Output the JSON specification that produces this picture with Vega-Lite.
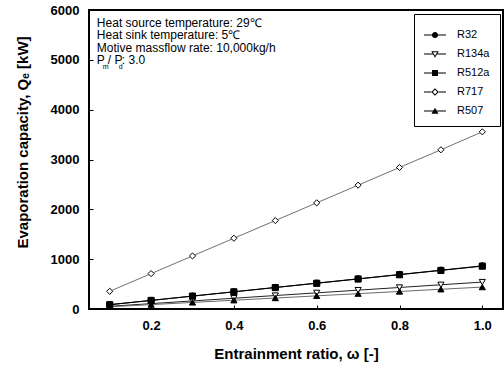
{
  "$schema": "https://vega.github.io/schema/vega-lite/v6.json",
  "width": 414,
  "height": 299,
  "autosize": {"type": "none"},
  "padding": {"left": 89, "top": 10, "right": 1, "bottom": 67},
  "background": "white",
  "config": {
    "view": {"stroke": "black", "strokeWidth": 2},
    "font": "Liberation Sans",
    "axis": {"labelColor": "black", "titleColor": "black", "tickColor": "black", "grid": false, "domain": false}
  },
  "resolve": {"scale": {"shape": "independent", "fill": "independent"}, "legend": {"shape": "independent", "fill": "independent"}},
  "data": {
    "values": [
      {"ratio": 0.1, "ref": "R32", "q": 87}, {"ratio": 0.2, "ref": "R32", "q": 173}, {"ratio": 0.3, "ref": "R32", "q": 260}, {"ratio": 0.4, "ref": "R32", "q": 346}, {"ratio": 0.5, "ref": "R32", "q": 433}, {"ratio": 0.6, "ref": "R32", "q": 520}, {"ratio": 0.7, "ref": "R32", "q": 606}, {"ratio": 0.8, "ref": "R32", "q": 693}, {"ratio": 0.9, "ref": "R32", "q": 779}, {"ratio": 1.0, "ref": "R32", "q": 866},
      {"ratio": 0.1, "ref": "R134a", "q": 54}, {"ratio": 0.2, "ref": "R134a", "q": 108}, {"ratio": 0.3, "ref": "R134a", "q": 162}, {"ratio": 0.4, "ref": "R134a", "q": 216}, {"ratio": 0.5, "ref": "R134a", "q": 270}, {"ratio": 0.6, "ref": "R134a", "q": 324}, {"ratio": 0.7, "ref": "R134a", "q": 378}, {"ratio": 0.8, "ref": "R134a", "q": 432}, {"ratio": 0.9, "ref": "R134a", "q": 486}, {"ratio": 1.0, "ref": "R134a", "q": 540},
      {"ratio": 0.1, "ref": "R512a", "q": 86}, {"ratio": 0.2, "ref": "R512a", "q": 172}, {"ratio": 0.3, "ref": "R512a", "q": 258}, {"ratio": 0.4, "ref": "R512a", "q": 344}, {"ratio": 0.5, "ref": "R512a", "q": 430}, {"ratio": 0.6, "ref": "R512a", "q": 516}, {"ratio": 0.7, "ref": "R512a", "q": 602}, {"ratio": 0.8, "ref": "R512a", "q": 688}, {"ratio": 0.9, "ref": "R512a", "q": 774}, {"ratio": 1.0, "ref": "R512a", "q": 860},
      {"ratio": 0.1, "ref": "R717", "q": 355}, {"ratio": 0.2, "ref": "R717", "q": 710}, {"ratio": 0.3, "ref": "R717", "q": 1065}, {"ratio": 0.4, "ref": "R717", "q": 1420}, {"ratio": 0.5, "ref": "R717", "q": 1775}, {"ratio": 0.6, "ref": "R717", "q": 2130}, {"ratio": 0.7, "ref": "R717", "q": 2485}, {"ratio": 0.8, "ref": "R717", "q": 2840}, {"ratio": 0.9, "ref": "R717", "q": 3195}, {"ratio": 1.0, "ref": "R717", "q": 3555},
      {"ratio": 0.1, "ref": "R507", "q": 44}, {"ratio": 0.2, "ref": "R507", "q": 88}, {"ratio": 0.3, "ref": "R507", "q": 132}, {"ratio": 0.4, "ref": "R507", "q": 176}, {"ratio": 0.5, "ref": "R507", "q": 220}, {"ratio": 0.6, "ref": "R507", "q": 264}, {"ratio": 0.7, "ref": "R507", "q": 308}, {"ratio": 0.8, "ref": "R507", "q": 352}, {"ratio": 0.9, "ref": "R507", "q": 396}, {"ratio": 1.0, "ref": "R507", "q": 440}
    ]
  },
  "layer": [
    {
      "mark": {"type": "line", "strokeWidth": 1},
      "encoding": {
        "x": {"field": "ratio", "type": "quantitative", "scale": {"domain": [0.05, 1.05], "nice": false, "zero": false},
          "axis": {"values": [0.2, 0.4, 0.6, 0.8, 1.0], "format": ".1f", "title": "Entrainment ratio, ω  [-]", "tickSize": -4, "labelPadding": 14, "labelFontSize": 13, "labelFontWeight": "bold", "titleFontSize": 15, "titleFontWeight": "bold", "titlePadding": 14}},
        "y": {"field": "q", "type": "quantitative", "scale": {"domain": [0, 6000], "nice": false},
          "axis": {"values": [0, 1000, 2000, 3000, 4000, 5000, 6000], "format": "d", "title": "Evaporation capacity, Qₑ [kW]", "tickSize": -4, "labelPadding": 14, "labelFontSize": 13, "labelFontWeight": "bold", "titleFontSize": 15, "titleFontWeight": "bold", "titleX": -67, "titleY": 132, "titleAngle": -90, "titleBaseline": "middle", "titleAlign": "center"}},
        "stroke": {"field": "ref", "type": "nominal", "scale": {"range": ["#222222", "#000000", "#6a6a6a", "#000000", "#707070"]}, "legend": null}
      }
    },
    {
      "mark": {"type": "point", "filled": true, "size": 38, "stroke": "black", "strokeWidth": 1, "opacity": 1},
      "encoding": {
        "x": {"field": "ratio", "type": "quantitative"},
        "y": {"field": "q", "type": "quantitative"},
        "shape": {"field": "ref", "type": "nominal", "scale": {"range": ["triangle-down", "circle", "triangle-up", "square", "diamond"]}, "legend": null},
        "fill": {"field": "ref", "type": "nominal", "scale": {"range": ["white", "black", "black", "black", "white"]}, "legend": null}
      }
    },
    {
      "data": {"values": []},
      "mark": {"type": "point", "filled": true, "color": "black", "size": 484, "opacity": 1},
      "encoding": {
        "x": {"field": "ratio", "type": "quantitative"},
        "y": {"field": "q", "type": "quantitative"},
        "shape": {"field": "ref", "type": "nominal",
          "scale": {"domain": ["R32", "R134a", "R512a", "R717", "R507"],
            "range": [
              "M-1,-0.045H-0.2V0.045H-1Z M0.2,-0.045H1V0.045H0.2Z M0.28,0A0.28,0.28,0,1,1,-0.28,0A0.28,0.28,0,1,1,0.28,0Z",
              "M-1,-0.045H-0.19V0.045H-1Z M0.19,-0.045H1V0.045H0.19Z M-0.34,-0.25L0.34,-0.25L0,0.33Z M-0.19,-0.16L0,0.16L0.19,-0.16Z",
              "M-1,-0.045H-0.2V0.045H-1Z M0.2,-0.045H1V0.045H0.2Z M-0.27,-0.27H0.27V0.27H-0.27Z",
              "M-1,-0.045H-0.34V0.045H-1Z M0.34,-0.045H1V0.045H0.34Z M0,-0.34L0.34,0L0,0.34L-0.34,0Z M0,-0.21L-0.21,0L0,0.21L0.21,0Z",
              "M-1,-0.045H-0.15V0.045H-1Z M0.15,-0.045H1V0.045H0.15Z M0,-0.3L0.32,0.25L-0.32,0.25Z"
            ]},
          "legend": {"orient": "none", "legendX": 325, "legendY": 4, "title": null, "padding": 10, "strokeColor": "black", "fillColor": "white", "labelFont": "Liberation Sans", "labelFontSize": 11, "labelColor": "black", "labelOffset": 11, "rowPadding": 3, "symbolSize": 484, "symbolFillColor": "black", "symbolStrokeWidth": 0}}
      }
    },
    {
      "data": {"values": [{}]},
      "mark": {"type": "text", "align": "left", "baseline": "top", "fontSize": 12, "lineHeight": 12.5, "font": "Liberation Sans", "color": "black", "text": ["Heat source temperature: 29℃", "Heat sink temperature: 5℃", "Motive massflow rate: 10,000kg/h"]},
      "encoding": {"x": {"datum": 0.069}, "y": {"datum": 5840}}
    },
    {
      "data": {"values": [{}]},
      "mark": {"type": "text", "align": "left", "baseline": "top", "fontSize": 12, "font": "Liberation Sans", "color": "black", "text": "P"},
      "encoding": {"x": {"datum": 0.069}, "y": {"datum": 5100}}
    },
    {
      "data": {"values": [{}]},
      "mark": {"type": "text", "align": "left", "baseline": "top", "fontSize": 7, "font": "Liberation Sans", "color": "black", "text": "m", "dx": 6, "dy": 8},
      "encoding": {"x": {"datum": 0.069}, "y": {"datum": 5100}}
    },
    {
      "data": {"values": [{}]},
      "mark": {"type": "text", "align": "left", "baseline": "top", "fontSize": 12, "font": "Liberation Sans", "color": "black", "text": "/ P", "dx": 11},
      "encoding": {"x": {"datum": 0.069}, "y": {"datum": 5100}}
    },
    {
      "data": {"values": [{}]},
      "mark": {"type": "text", "align": "left", "baseline": "top", "fontSize": 7, "font": "Liberation Sans", "color": "black", "text": "d", "dx": 22, "dy": 8},
      "encoding": {"x": {"datum": 0.069}, "y": {"datum": 5100}}
    },
    {
      "data": {"values": [{}]},
      "mark": {"type": "text", "align": "left", "baseline": "top", "fontSize": 12, "font": "Liberation Sans", "color": "black", "text": ": 3.0", "dx": 25},
      "encoding": {"x": {"datum": 0.069}, "y": {"datum": 5100}}
    }
  ]
}
